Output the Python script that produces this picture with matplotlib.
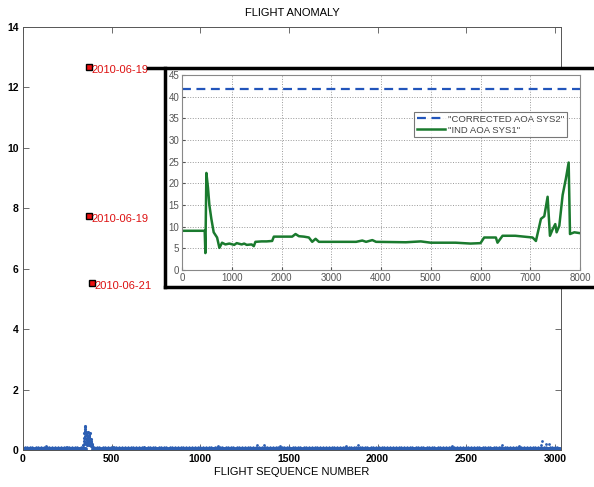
import numpy as np
import matplotlib
matplotlib.use("Agg")
import matplotlib.pyplot as plt
from matplotlib.lines import Line2D
from matplotlib.patches import Rectangle

plt.rcParams['font.family'] = ['Liberation Sans', 'DejaVu Sans']

# main chart: anomaly score per flight
# small repeating baseline of anomaly scores read off the dense band near zero
base_pattern = [0.03, 0.06, 0.02, 0.08, 0.04, 0.05, 0.01, 0.07, 0.03, 0.09,
                0.02, 0.05, 0.06, 0.04, 0.08, 0.02, 0.03, 0.07, 0.05, 0.01,
                0.06, 0.04, 0.09, 0.03, 0.05, 0.02, 0.07, 0.04, 0.06, 0.03,
                0.08, 0.05, 0.02, 0.04, 0.06, 0.01, 0.07, 0.03, 0.05, 0.10,
                0.02, 0.06, 0.04, 0.03, 0.08, 0.05, 0.02, 0.07, 0.04, 0.06,
                0.03, 0.05, 0.09, 0.02, 0.04, 0.06, 0.03, 0.07, 0.05, 0.01,
                0.04, 0.08, 0.03]
n_flights = 3030
gap_start, gap_end = 355, 390

spike_x = [130, 250, 510, 680, 1100, 1320, 1360, 1450, 1820, 1890, 2420,
           2700, 2800, 2920, 2930, 2950, 2970]
spike_y = [0.13, 0.11, 0.10, 0.10, 0.13, 0.17, 0.18, 0.12, 0.12, 0.18, 0.12,
           0.15, 0.12, 0.16, 0.30, 0.20, 0.20]

cluster_x = [340, 342, 345, 347, 350, 352, 348, 355, 357, 360, 362, 365, 367,
             370, 372, 375, 377, 380, 382, 385, 388, 390, 352, 358, 363, 368,
             373, 378, 383, 345, 355, 360, 366, 371, 376, 386, 344, 349, 354,
             359, 364, 369, 374, 379, 384, 389]
cluster_y = [0.15, 0.30, 0.55, 0.70, 0.78, 0.75, 0.45, 0.60, 0.50, 0.40, 0.55,
             0.35, 0.45, 0.50, 0.30, 0.40, 0.55, 0.35, 0.25, 0.30, 0.20, 0.15,
             0.25, 0.20, 0.15, 0.20, 0.15, 0.20, 0.12, 0.20, 0.35, 0.25, 0.60,
             0.42, 0.28, 0.18, 0.40, 0.62, 0.48, 0.32, 0.38, 0.28, 0.46, 0.22,
             0.36, 0.14]

anom_x = [372, 372, 389]
anom_y = [12.68, 7.75, 5.52]
anom_labels = ['2010-06-19', '2010-06-19', '2010-06-21']

# inset: AOA traces
ind_x = [0, 456, 470, 490, 523, 550, 590, 637, 705, 752, 805, 872, 950, 1050,
         1100, 1200, 1250, 1300, 1400, 1443, 1476, 1600, 1700, 1812, 1846,
         2000, 2215, 2282, 2350, 2450, 2550, 2617, 2685, 2752, 3000, 3500,
         3624, 3700, 3826, 3900, 4500, 4800, 5000, 5500, 5800, 6000, 6074,
         6309, 6342, 6443, 6700, 7047, 7114, 7215, 7282, 7349, 7396, 7450,
         7503, 7530, 7584, 7651, 7718, 7772, 7799, 7886, 8000]
ind_y = [9.05, 9.05, 3.9, 22.4, 18.9, 15.0, 11.8, 8.7, 7.5, 5.1, 6.3, 5.9,
         6.1, 5.8, 6.2, 5.9, 6.1, 5.8, 5.9, 5.5, 6.5, 6.6, 6.6, 6.7, 7.7, 7.7,
         7.7, 8.3, 7.8, 7.7, 7.5, 6.5, 7.2, 6.5, 6.5, 6.5, 6.8, 6.5, 6.9, 6.5,
         6.4, 6.6, 6.3, 6.3, 6.1, 6.2, 7.5, 7.5, 6.3, 7.9, 7.9, 7.5, 6.7, 11.8,
         12.4, 16.9, 7.9, 9.4, 10.6, 8.7, 10.2, 17.3, 21.2, 24.8, 8.3, 8.7, 8.5]
corr_x = [0, 8000]
corr_y = [41.7, 41.7]

fig = plt.figure(figsize=(5.94, 4.87), dpi=100)
ax = fig.add_axes([23/594, 37/487, 538/594, 423/487])

flights = np.arange(1, n_flights + 1)
base_y = np.resize(np.array(base_pattern), n_flights)
keep = (flights < gap_start) | (flights > gap_end)
blue = '#2d5fb3'
ax.plot(flights[keep], base_y[keep], '.', color=blue, ms=3.5, mew=0)
ax.plot(flights[keep], np.zeros(keep.sum()) + 0.015, '.', color=blue, ms=3.5, mew=0)
ax.plot(spike_x, spike_y, '.', color=blue, ms=4, mew=0)
ax.plot(cluster_x, cluster_y, '.', color=blue, ms=4.5, mew=0)
ax.plot(anom_x, anom_y, 's', ms=5, mfc='#ee1111', mec='black', mew=1)
for x, y, lab in zip(anom_x, anom_y, anom_labels):
    ax.text(x + 14, y - 0.1, lab, color='#dd1111', fontsize=8, va='center', ha='left')

ax.set_xlim(0, 3035)
ax.set_ylim(0, 14)
ax.set_xticks([0, 500, 1000, 1500, 2000, 2500, 3000])
ax.set_yticks(range(0, 15, 2))
ax.tick_params(direction='in', top=True, right=True, length=4, width=0.6,
               color='#555555', labelsize=7.5, pad=3)
for lab in ax.get_xticklabels() + ax.get_yticklabels():
    lab.set_fontweight('bold')
for s in ax.spines.values():
    s.set_linewidth(0.7)
    s.set_color('#555555')
ax.set_title('FLIGHT ANOMALY', fontsize=8, pad=8)
ax.set_xlabel('FLIGHT SEQUENCE NUMBER', fontsize=8, labelpad=2)

# white panel and thick frame for the inset
fig.add_artist(Rectangle((165/594, 1 - 287/487), 1, (287 - 68)/487,
                         transform=fig.transFigure, facecolor='white',
                         edgecolor='none', zorder=5))
fig.add_artist(Line2D([148/594, 1], [1 - 68/487, 1 - 68/487], color='black',
                      lw=2.5, transform=fig.transFigure, zorder=6))
fig.add_artist(Line2D([165/594, 165/594], [1 - 68/487, 1 - 287/487],
                      color='black', lw=2.5, transform=fig.transFigure, zorder=6))
fig.add_artist(Line2D([165/594, 1], [1 - 287/487, 1 - 287/487], color='black',
                      lw=2.5, transform=fig.transFigure, zorder=6))

ins = fig.add_axes([182/594, 1 - 270/487, 398/594, 195/487], zorder=7)
ins.plot(corr_x, corr_y, '--', color='#2255bb', lw=1.6, dashes=(4, 2.5),
         label='"CORRECTED AOA SYS2"')
ins.plot(ind_x, ind_y, '-', color='#1a7a2e', lw=1.8, label='"IND AOA SYS1"')
ins.set_xlim(0, 8000)
ins.set_ylim(0, 45)
ins.set_xticks(range(0, 8001, 1000))
ins.set_yticks(range(0, 46, 5))
ins.grid(True, ls=':', color='#999999', lw=0.7)
ins.tick_params(direction='in', length=2, labelsize=7, colors='#555555', pad=2)
for s in ins.spines.values():
    s.set_color('#888888')
    s.set_linewidth(0.8)
leg = ins.legend(loc='upper right', bbox_to_anchor=(0.98, 0.835), fontsize=6.8,
                 frameon=True, fancybox=False, borderpad=0.3, labelspacing=0.2,
                 handlelength=3.0, handletextpad=0.3)
leg.get_frame().set_edgecolor('#555555')
leg.get_frame().set_linewidth(0.8)
for t in leg.get_texts():
    t.set_color('#444444')

fig.savefig('out.png', dpi=100)
